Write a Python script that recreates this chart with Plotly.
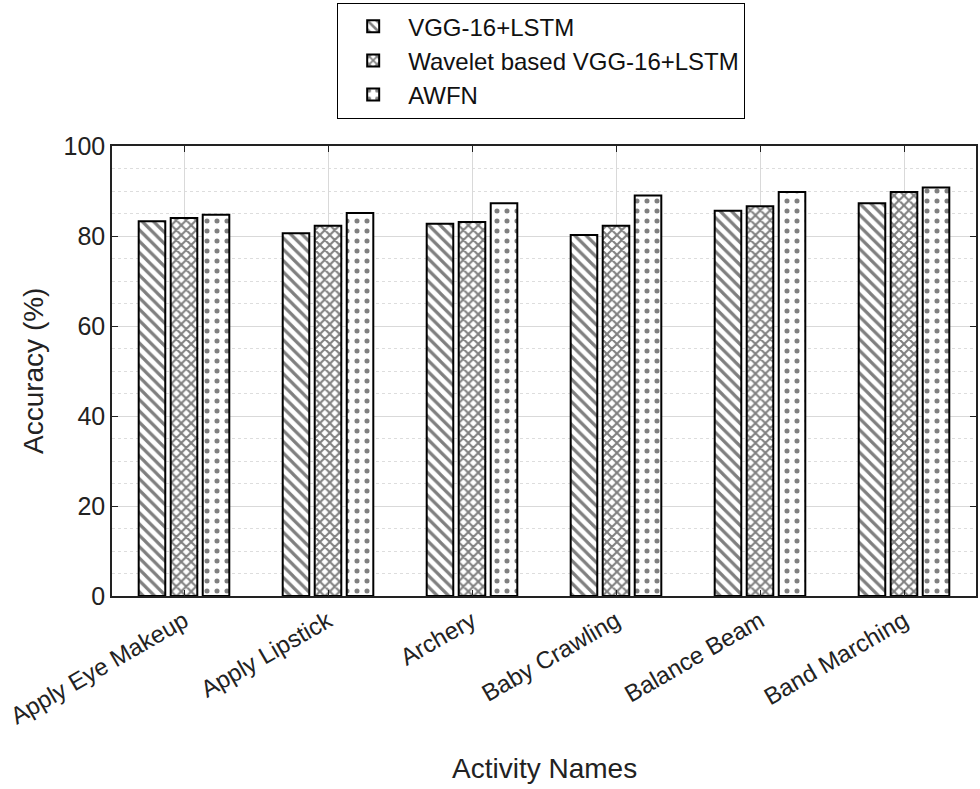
import plotly.graph_objects as go

categories = ["Apply Eye Makeup", "Apply Lipstick", "Archery", "Baby Crawling", "Balance Beam", "Band Marching"]
series_names = ["VGG-16+LSTM", "Wavelet based VGG-16+LSTM", "AWFN"]
vgg = [83.3, 80.6, 82.7, 80.2, 85.6, 87.3]
wavelet = [84.0, 82.3, 83.1, 82.3, 86.6, 89.8]
awfn = [84.7, 85.1, 87.3, 89.0, 89.8, 90.8]
y_ticks = [0, 20, 40, 60, 80, 100]

x_pos = list(range(1, len(categories) + 1))
patterns = [dict(shape="\\", size=8, solidity=0.4),
            dict(shape="x", size=7, solidity=0.5),
            dict(shape=".", size=10, solidity=0.2)]

fig = go.Figure()
for name, vals, pat in zip(series_names, [vgg, wavelet, awfn], patterns):
    fig.add_trace(go.Bar(
        x=x_pos, y=vals, name=name,
        marker=dict(color="white", line=dict(color="black", width=2),
                    pattern=dict(fgcolor="black", bgcolor="white", fillmode="overlay", **pat)),
    ))

font_family = "Liberation Sans, Arial, sans-serif"
fig.update_layout(
    width=980, height=789,
    paper_bgcolor="white", plot_bgcolor="white",
    margin=dict(l=112, r=4, t=146, b=193, autoexpand=False),
    barmode="group", bargap=0.333, bargroupgap=0.17,
    font=dict(family=font_family, size=25, color="#222"),
    legend=dict(x=0.4965, y=1.318, xanchor="center", yanchor="top",
                bordercolor="black", borderwidth=1.2, bgcolor="white",
                font=dict(size=24, color="#111"), itemwidth=60,
                tracegroupgap=0),
    showlegend=True,
    annotations=[
        dict(text="Activity Names", x=0.5, y=-0.384, xref="paper", yref="paper",
             xanchor="center", yanchor="middle", showarrow=False,
             font=dict(size=28, color="#222")),
        dict(text="Accuracy (%)", x=-0.0914, y=0.5, xref="paper", yref="paper",
             xanchor="center", yanchor="middle", showarrow=False, textangle=-90,
             font=dict(size=28, color="#222")),
    ],
)
fig.update_xaxes(
    range=[0.5, 6.5], tickvals=x_pos, ticktext=categories, tickangle=-30,
    showline=True, linecolor="#222", linewidth=1.5, mirror="ticks",
    ticks="inside", ticklen=6, tickcolor="#222",
    showgrid=True, gridcolor="#d9d9d9", gridwidth=1,
    tickfont=dict(size=24), automargin=False, ticklabeloverflow="allow",
)
fig.update_yaxes(
    range=[0, 100], tickvals=y_ticks,
    showline=True, linecolor="#222", linewidth=1.5, mirror="ticks",
    ticks="inside", ticklen=6, tickcolor="#222",
    showgrid=True, gridcolor="#d9d9d9", gridwidth=1,
    minor=dict(dtick=5, showgrid=True, gridcolor="#dddddd", griddash="dot", gridwidth=1),
    tickfont=dict(size=25), zeroline=False, automargin=False,
)

fig.write_html("out.html", config={"displayModeBar": False},
               post_script="document.body.style.margin='0';")
